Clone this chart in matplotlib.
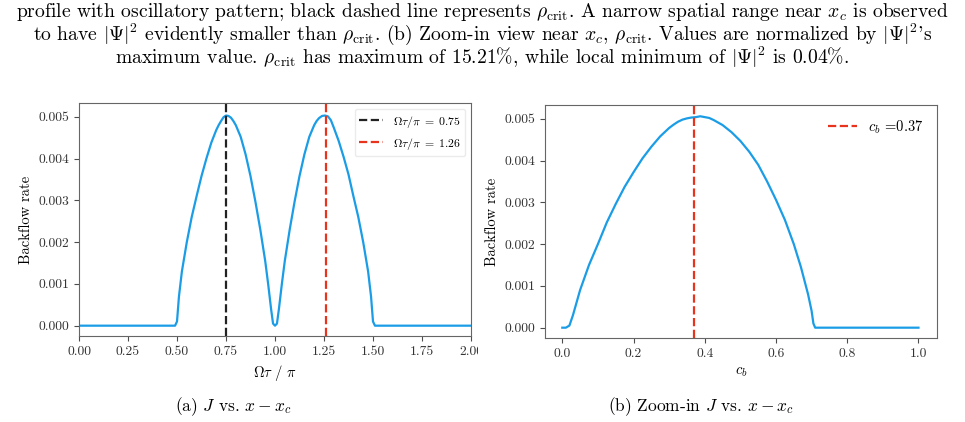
import matplotlib
matplotlib.use("Agg")
import matplotlib.pyplot as plt
from matplotlib.ticker import FormatStrFormatter
from matplotlib.transforms import Bbox

plt.rcParams["font.family"] = ["cmr10", "DejaVu Serif"]
plt.rcParams["mathtext.fontset"] = "cm"
plt.rcParams["axes.formatter.use_mathtext"] = True

# (a) backflow rate vs. Omega*tau/pi
omega_tau = [0.00, 0.49, 0.50, 0.51, 0.525, 0.55, 0.575, 0.60, 0.625, 0.65, 0.675,
             0.70, 0.7125, 0.725, 0.7375, 0.75, 0.7625, 0.775, 0.7875, 0.80, 0.825,
             0.85, 0.875, 0.90, 0.925, 0.95, 0.965, 0.98, 0.99, 1.00, 1.01, 1.02,
             1.035, 1.05, 1.075, 1.10, 1.125, 1.15, 1.175, 1.20, 1.2125, 1.225,
             1.24, 1.255, 1.27, 1.285, 1.30, 1.325, 1.35, 1.375, 1.40, 1.425, 1.45,
             1.475, 1.49, 1.50, 1.51, 2.00]
rate_a = [0.0, 0.0, 0.0001, 0.0007, 0.0013, 0.0020, 0.0026, 0.0031, 0.00358,
          0.0040, 0.00438, 0.00468, 0.0048, 0.0049, 0.00499, 0.00503, 0.00502,
          0.00498, 0.0049, 0.0048, 0.00452, 0.0041, 0.00358, 0.00297, 0.0023,
          0.00155, 0.0010, 0.0004, 0.00005, 0.0, 0.00005, 0.0004, 0.0010,
          0.00155, 0.0023, 0.00297, 0.00358, 0.0041, 0.00452, 0.0048, 0.0049,
          0.00497, 0.00502, 0.00503, 0.00501, 0.00492, 0.00474, 0.00442,
          0.00404, 0.00362, 0.0031, 0.0026, 0.0020, 0.0013, 0.0007, 0.0001,
          0.0, 0.0]
vline_a = [0.75, 1.26]
vline_a_labels = [r"$\Omega\tau/\pi\;=\;0.75$", r"$\Omega\tau/\pi\;=\;1.26$"]

# (b) backflow rate vs. c_b
c_b = [0.0, 0.01, 0.02, 0.03, 0.05, 0.075, 0.10, 0.125, 0.15, 0.175, 0.20,
       0.225, 0.25, 0.275, 0.30, 0.3125, 0.325, 0.3375, 0.35, 0.3625, 0.375,
       0.3875, 0.40, 0.4125, 0.425, 0.45, 0.475, 0.50, 0.525, 0.55, 0.575,
       0.60, 0.625, 0.65, 0.67, 0.69, 0.70, 0.705, 0.71, 0.75, 0.80, 0.90, 1.0]
rate_b = [0.0, 0.0, 0.00005, 0.0003, 0.0009, 0.0015, 0.0020, 0.00252, 0.00296,
          0.00337, 0.00372, 0.00405, 0.00433, 0.00458, 0.00478, 0.00486,
          0.00493, 0.00498, 0.00501, 0.00503, 0.00504, 0.00506, 0.00504,
          0.00502, 0.00497, 0.00485, 0.00468, 0.00447, 0.00421, 0.0039,
          0.0035, 0.00306, 0.00258, 0.0020, 0.00145, 0.0008, 0.0004, 0.0001,
          0.0, 0.0, 0.0, 0.0, 0.0]
vline_b = 0.37
vline_b_label = r"$c_b$ =0.37"

caption_top = [
    r"profile with oscillatory pattern; black dashed line represents $\rho_{\mathrm{crit}}$. "
    r"A narrow spatial range near $x_c$ is observed",
    r"to have $|\Psi|^2$ evidently smaller than $\rho_{\mathrm{crit}}$. (b) Zoom-in view near "
    r"$x_c$, $\rho_{\mathrm{crit}}$. Values are normalized by $|\Psi|^2$'s",
    r"maximum value. $\rho_{\mathrm{crit}}$ has maximum of 15.21%, while local minimum of "
    r"$|\Psi|^2$ is 0.04%.",
]
caption_baselines = [17, 40, 64]
sub_captions = [r"(a) $J$ vs. $x - x_c$", r"(b) Zoom-in $J$ vs. $x - x_c$"]

BLUE = "#1a9de6"
RED = "#e8341c"
BLACK = "#222222"

fig = plt.figure(figsize=(9.65, 4.22), dpi=100)

for line, yb in zip(caption_top, caption_baselines):
    fig.text(0.5, 1 - yb / 422, line, ha="center", va="baseline", fontsize=14.1)

ax1 = fig.add_axes([79 / 965, 1 - 336 / 422, 392 / 965, 233 / 422])
ax2 = fig.add_axes([545 / 965, 1 - 338 / 422, 392 / 965, 233 / 422])

ax1.plot(omega_tau, rate_a, color=BLUE, lw=1.6)
ax1.axvline(vline_a[0], color=BLACK, ls="--", lw=1.6, label=vline_a_labels[0])
ax1.axvline(vline_a[1], color=RED, ls="--", lw=1.6, label=vline_a_labels[1])
ax1.set_xlim(0, 2)
ax1.set_xticks([0, 0.25, 0.5, 0.75, 1.0, 1.25, 1.5, 1.75, 2.0])
ax1.xaxis.set_major_formatter(FormatStrFormatter("%.2f"))
ax1.set_xlabel(r"$\Omega\tau$ / $\pi$", fontsize=10.5)
ax1.legend(loc="upper right", fontsize=8.5, edgecolor="0.9", handlelength=2.0)

ax2.plot(c_b, rate_b, color=BLUE, lw=1.6)
ax2.axvline(vline_b, color=RED, ls="--", lw=1.6, label=vline_b_label)
ax2.set_xlim(-0.0485, 1.052)
ax2.xaxis.set_major_formatter(FormatStrFormatter("%.1f"))
ax2.set_xlabel(r"$c_b$", fontsize=10.5)
ax2.legend(loc="upper right", fontsize=10.5, frameon=False)

for ax in (ax1, ax2):
    ax.set_ylim(-0.000247, 0.00533)
    ax.set_yticks([0, 0.001, 0.002, 0.003, 0.004, 0.005])
    ax.yaxis.set_major_formatter(FormatStrFormatter("%.3f"))
    ax.set_ylabel("Backflow rate", fontsize=10.5)
    ax.tick_params(labelsize=9.8, colors="0.3", labelcolor="0.2")
    for s in ax.spines.values():
        s.set_color("0.4")

fig.text(233 / 965, 1 - 407 / 422, sub_captions[0], ha="center", va="center", fontsize=12.5)
fig.text(701 / 965, 1 - 407 / 422, sub_captions[1], ha="center", va="center", fontsize=12.5)

# the original panel (a) is cropped just right of its axes
fig.canvas.draw()
last = ax1.get_xticklabels()[-1]
last.set_clip_box(Bbox.from_extents(0, 0, 478, 422))
last.set_clip_on(True)

fig.savefig("out.png", dpi=100)
